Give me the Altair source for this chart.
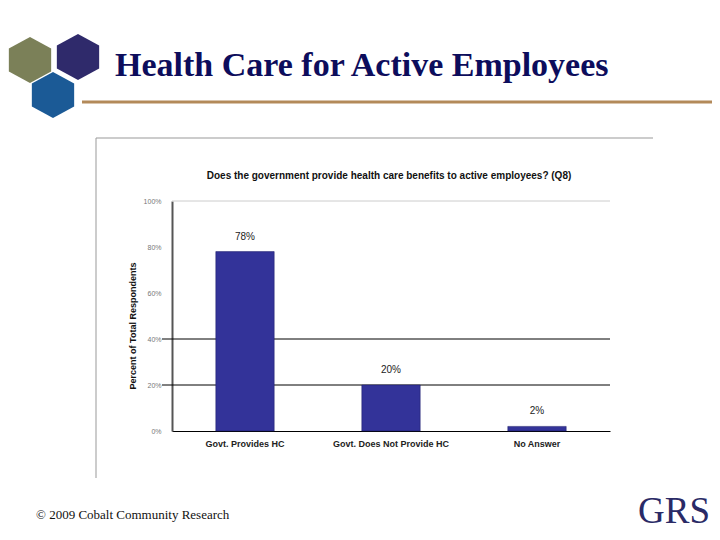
import altair as alt
import pandas as pd

# ---- data ----
categories = ["Govt. Provides HC", "Govt. Does Not Provide HC", "No Answer"]
values = [78, 20, 2]
value_labels = ["78%", "20%", "2%"]
grid_values = [20, 40]
tick_values = [0, 20, 40, 60, 80, 100]

slide_title = "Health Care for Active Employees"
chart_title = "Does the government provide health care benefits to active employees? (Q8)"
y_title = "Percent of Total Respondents"
footer = "\u00a9 2009 Cobalt Community Research"
brand = "GRS"

df = pd.DataFrame({"cat": categories, "val": values, "lab": value_labels})
grid_df = pd.DataFrame({"v": grid_values})
one = pd.DataFrame({"a": [0]})

W, H = 438, 230
# plot origin in page coords = (172, 201)
OX, OY = 172, 201


def px(x):
    return x - OX


def py(y):
    return y - OY


x_enc = alt.X(
    "cat:N",
    sort=categories,
    scale=alt.Scale(paddingInner=0.6, paddingOuter=0.3),
    axis=alt.Axis(
        title=None,
        labelAngle=0,
        labelFont="Liberation Sans",
        labelFontSize=9,
        labelFontWeight="bold",
        labelColor="#222222",
        labelPadding=8,
        ticks=False,
        domainColor="#000000",
        domainWidth=1,
    ),
)
y_enc = alt.Y(
    "val:Q",
    scale=alt.Scale(domain=[0, 100]),
    axis=alt.Axis(
        title=None,
        values=tick_values,
        labelExpr="datum.value + '%'",
        labelFont="Liberation Sans",
        labelFontSize=7,
        labelColor="#777777",
        labelPadding=11,
        ticks=False,
        grid=False,
        domainColor="#555555",
        domainWidth=2,
    ),
)

bars = alt.Chart(df).mark_bar(color="#333399", stroke="#1a1a66", strokeWidth=0.5).encode(
    x=x_enc, y=y_enc
)
labels = alt.Chart(df).mark_text(
    font="Liberation Sans", fontSize=10, color="#222222", baseline="bottom", dy=-10
).encode(x=alt.X("cat:N", sort=categories), y="val:Q", text="lab:N")

grid = alt.Chart(grid_df).mark_rule(color="#000000", strokeWidth=1).encode(
    y="v:Q", x=alt.value(-10), x2=alt.value(W)
)
top_line = alt.Chart(one).mark_rule(color="#cccccc", strokeWidth=1).encode(
    x=alt.value(0), x2=alt.value(W), y=alt.value(0)
)

# slide decorations
frame_top = alt.Chart(one).mark_rule(color="#999999", strokeWidth=1).encode(
    x=alt.value(px(96)), x2=alt.value(px(653)), y=alt.value(py(138))
)
frame_left = alt.Chart(one).mark_rule(color="#999999", strokeWidth=1).encode(
    x=alt.value(px(96)), y=alt.value(py(138)), y2=alt.value(py(478))
)
tan_line = alt.Chart(one).mark_rule(color="#b38a5a", strokeWidth=3).encode(
    x=alt.value(px(82)), x2=alt.value(px(720)), y=alt.value(py(102))
)

hex_path = "M0,-1 L0.92,-0.5 L0.92,0.5 L0,1 L-0.92,0.5 L-0.92,-0.5 Z"
hexes = []
for cx, cy, col in [(30, 60, "#7b8058"), (78, 57, "#2f2a6b"), (53, 95, "#1b5a96")]:
    hexes.append(
        alt.Chart(one).mark_point(
            shape=hex_path, filled=True, fill=col, opacity=1, size=2116, strokeWidth=0
        ).encode(x=alt.value(px(cx)), y=alt.value(py(cy)))
    )

title_txt = alt.Chart(one).mark_text(
    text=slide_title, font="Liberation Serif", fontSize=34, fontWeight="bold",
    color="#0d0d5c", align="left", baseline="alphabetic"
).encode(x=alt.value(px(115)), y=alt.value(py(76)))

chart_title_txt = alt.Chart(one).mark_text(
    text=chart_title, font="Liberation Sans", fontSize=10, fontWeight="bold",
    color="#111111", align="center", baseline="middle"
).encode(x=alt.value(px(389)), y=alt.value(py(176)))

y_title_txt = alt.Chart(one).mark_text(
    text=y_title, font="Liberation Sans", fontSize=9, fontWeight="bold",
    color="#111111", align="center", baseline="middle", angle=270
).encode(x=alt.value(px(133)), y=alt.value(py(326)))

footer_txt = alt.Chart(one).mark_text(
    text=footer, font="Liberation Serif", fontSize=13, color="#111111",
    align="left", baseline="alphabetic"
).encode(x=alt.value(px(36)), y=alt.value(py(519)))

brand_txt = alt.Chart(one).mark_text(
    text=brand, font="Liberation Serif", fontSize=37, color="#2a2a66",
    align="right", baseline="bottom"
).encode(x=alt.value(px(710)), y=alt.value(py(531)))

chart = alt.layer(
    frame_top, frame_left, tan_line, *hexes, title_txt, chart_title_txt,
    y_title_txt, footer_txt, brand_txt, top_line, grid, bars, labels
).properties(
    width=W, height=H,
    autosize=alt.AutoSizeParams(type="none"),
    padding={"left": 164, "top": 193, "right": 102, "bottom": 101},
).configure(background="#ffffff").configure_view(stroke=None)

chart.save("out.html", embed_options={"renderer": "svg", "actions": False})
